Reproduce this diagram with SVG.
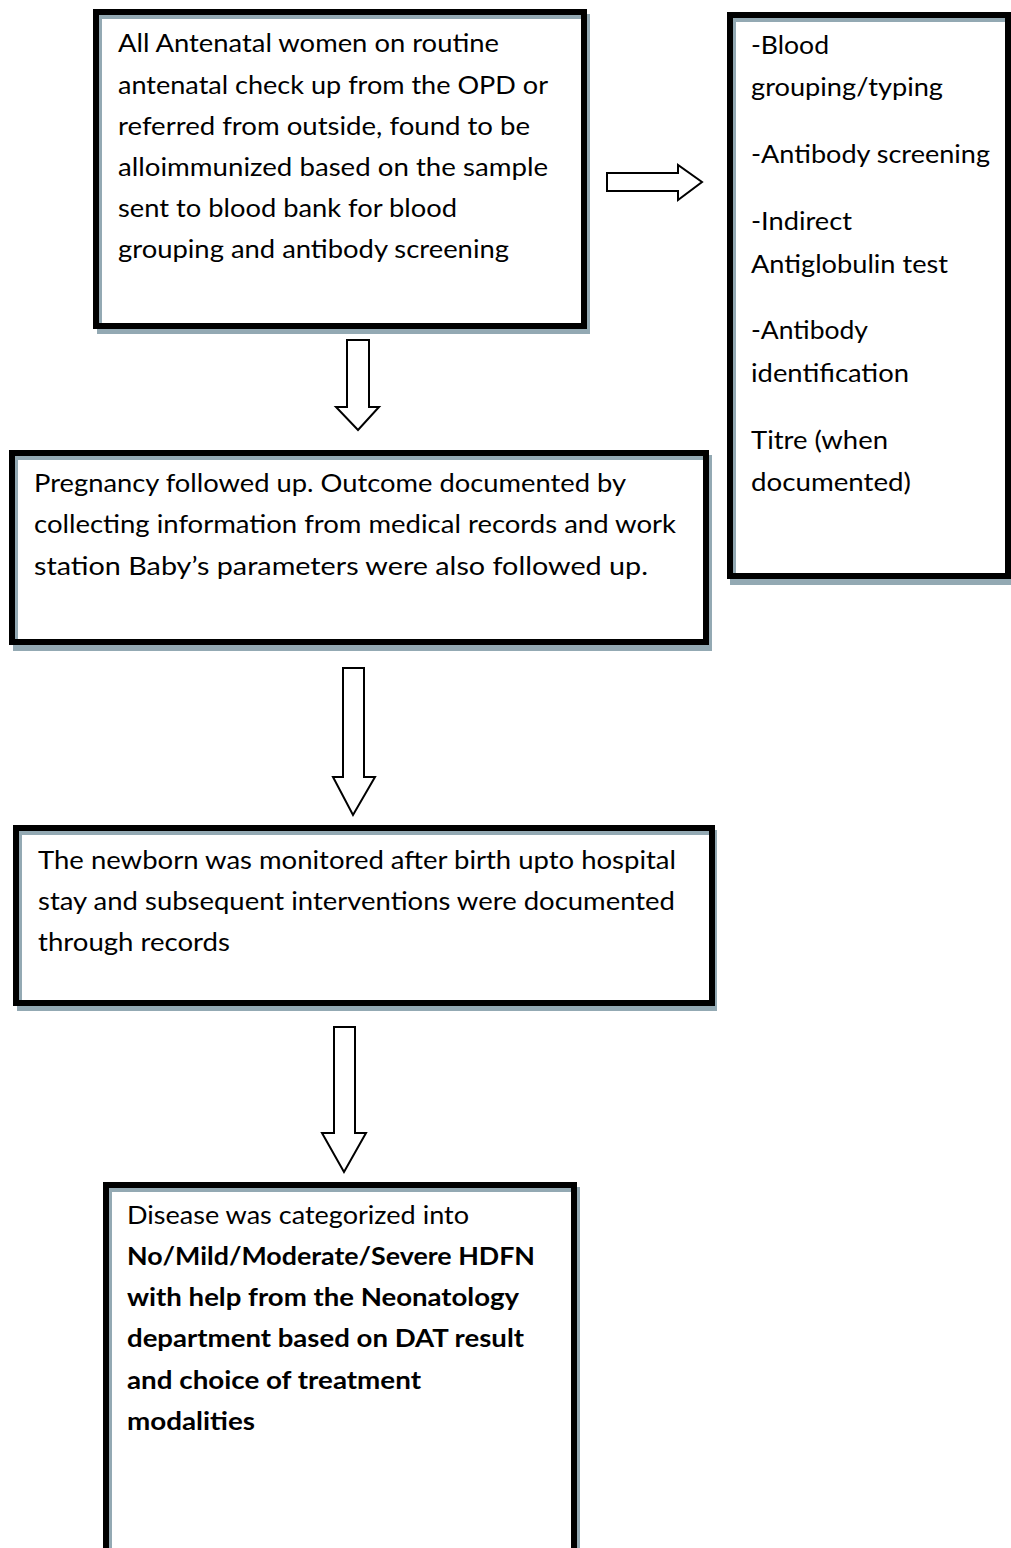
<svg xmlns="http://www.w3.org/2000/svg" width="1011" height="1548" viewBox="0 0 1011 1548">
<style>
.sh{fill:#93a9b3}
.bk{fill:#000}
.wh{fill:#fff}
.bl{fill:#93a9b3}
.t{font-family:Lato,"Open Sans","Noto Sans",sans-serif;font-size:25px;fill:#000}
.b{font-weight:bold}
.ar{fill:#fff;stroke:#000;stroke-width:2;stroke-linejoin:miter}
</style>
<rect width="1011" height="1548" fill="#fff"/>
<g id="box1">
<rect class="sh" x="97" y="14" width="493" height="320"/>
<rect class="bk" x="93" y="9" width="494" height="320"/>
<rect class="wh" x="99" y="15" width="482" height="308"/>
<rect class="bl" x="99" y="15" width="482" height="4"/>
<rect class="bl" x="99" y="15" width="3" height="308"/>
<text class="t" x="118" y="52" textLength="381" lengthAdjust="spacingAndGlyphs">All Antenatal women on routine</text>
<text class="t" x="118" y="94" textLength="430" lengthAdjust="spacingAndGlyphs">antenatal check up from the OPD or</text>
<text class="t" x="118" y="135" textLength="412" lengthAdjust="spacingAndGlyphs">referred from outside, found to be</text>
<text class="t" x="118" y="176" textLength="430" lengthAdjust="spacingAndGlyphs">alloimmunized based on the sample</text>
<text class="t" x="118" y="217" textLength="339" lengthAdjust="spacingAndGlyphs">sent to blood bank for blood</text>
<text class="t" x="118" y="258" textLength="391" lengthAdjust="spacingAndGlyphs">grouping and antibody screening</text>
</g>
<g id="box2">
<rect class="sh" x="730" y="17" width="290" height="568"/>
<rect class="bk" x="727" y="12" width="284" height="567"/>
<rect class="wh" x="733" y="18" width="272" height="555"/>
<rect class="bl" x="733" y="18" width="272" height="4"/>
<rect class="bl" x="733" y="18" width="3" height="555"/>
<text class="t" x="751" y="54" textLength="78" lengthAdjust="spacingAndGlyphs">-Blood</text>
<text class="t" x="751" y="96" textLength="192" lengthAdjust="spacingAndGlyphs">grouping/typing</text>
<text class="t" x="751" y="163" textLength="239" lengthAdjust="spacingAndGlyphs">-Antibody screening</text>
<text class="t" x="751" y="230" textLength="101" lengthAdjust="spacingAndGlyphs">-Indirect</text>
<text class="t" x="751" y="273" textLength="197" lengthAdjust="spacingAndGlyphs">Antiglobulin test</text>
<text class="t" x="751" y="339" textLength="117" lengthAdjust="spacingAndGlyphs">-Antibody</text>
<text class="t" x="751" y="382" textLength="158" lengthAdjust="spacingAndGlyphs">identification</text>
<text class="t" x="751" y="449" textLength="137" lengthAdjust="spacingAndGlyphs">Titre (when</text>
<text class="t" x="751" y="491" textLength="160" lengthAdjust="spacingAndGlyphs">documented)</text>
</g>
<g id="box3">
<rect class="sh" x="13" y="455" width="699" height="196"/>
<rect class="bk" x="9" y="450" width="700" height="195"/>
<rect class="wh" x="15" y="456" width="688" height="183"/>
<rect class="bl" x="15" y="456" width="688" height="4"/>
<rect class="bl" x="15" y="456" width="3" height="183"/>
<text class="t" x="34" y="492" textLength="592" lengthAdjust="spacingAndGlyphs">Pregnancy followed up. Outcome documented by</text>
<text class="t" x="34" y="533" textLength="642" lengthAdjust="spacingAndGlyphs">collecting information from medical records and work</text>
<text class="t" x="34" y="575" textLength="614" lengthAdjust="spacingAndGlyphs">station Baby’s parameters were also followed up.</text>
</g>
<g id="box4">
<rect class="sh" x="17" y="830" width="700" height="181"/>
<rect class="bk" x="13" y="825" width="702" height="181"/>
<rect class="wh" x="19" y="831" width="690" height="169"/>
<rect class="bl" x="19" y="831" width="690" height="4"/>
<rect class="bl" x="19" y="831" width="3" height="169"/>
<text class="t" x="38" y="869" textLength="638" lengthAdjust="spacingAndGlyphs">The newborn was monitored after birth upto hospital</text>
<text class="t" x="38" y="910" textLength="637" lengthAdjust="spacingAndGlyphs">stay and subsequent interventions were documented</text>
<text class="t" x="38" y="951" textLength="192" lengthAdjust="spacingAndGlyphs">through records</text>
</g>
<g id="box5">
<rect class="sh" x="107" y="1187" width="473" height="380"/>
<rect class="bk" x="103" y="1182" width="474" height="380"/>
<rect class="wh" x="109" y="1188" width="462" height="380"/>
<rect class="bl" x="109" y="1188" width="462" height="4"/>
<rect class="bl" x="109" y="1188" width="3" height="380"/>
<text class="t" x="127" y="1224" textLength="342" lengthAdjust="spacingAndGlyphs">Disease was categorized into</text>
<text class="t b" x="127" y="1265" textLength="408" lengthAdjust="spacingAndGlyphs">No/Mild/Moderate/Severe HDFN</text>
<text class="t b" x="127" y="1306" textLength="392" lengthAdjust="spacingAndGlyphs">with help from the Neonatology</text>
<text class="t b" x="127" y="1347" textLength="397" lengthAdjust="spacingAndGlyphs">department based on DAT result</text>
<text class="t b" x="127" y="1389" textLength="294" lengthAdjust="spacingAndGlyphs">and choice of treatment</text>
<text class="t b" x="127" y="1430" textLength="128" lengthAdjust="spacingAndGlyphs">modalities</text>
</g>
<g id="connectors">
<polygon class="ar" points="607,173 678,173 678,165 702,182 678,200 678,191 607,191"/>
<polygon class="ar" points="347,340 369,340 369,407 379,407 358,430 336,407 347,407"/>
<polygon class="ar" points="343,668 364,668 364,777 375,777 353,815 333,777 343,777"/>
<polygon class="ar" points="334,1027 355,1027 355,1133 366,1133 344,1172 322,1133 334,1133"/>
</g>
</svg>
